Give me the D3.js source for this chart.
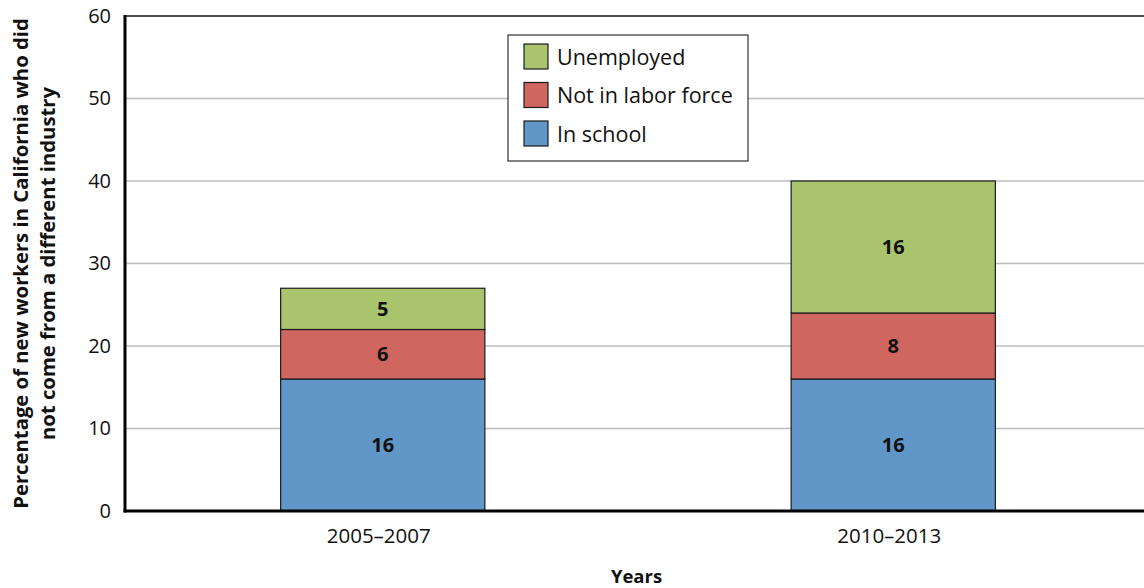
<!DOCTYPE html>
<html>
<head>
<meta charset="utf-8">
<script src="https://cdn.jsdelivr.net/npm/d3@7"></script>
<style>
  html, body { margin: 0; padding: 0; background: #fff; }
  svg { display: block; font-family: "Open Sans", "Noto Sans", sans-serif; }
</style>
</head>
<body>
<svg id="chart" width="1144" height="588"></svg>
<script>
// Chart data
const years = ["2005–2007", "2010–2013"];
const inSchool = [16, 16];
const notInLaborForce = [6, 8];
const unemployed = [5, 16];
const yTicks = [0, 10, 20, 30, 40, 50, 60];

const seriesNames = ["In school", "Not in labor force", "Unemployed"];
const seriesColors = ["#6096c8", "#cf6760", "#a9c46c"];
const seriesValues = [inSchool, notInLaborForce, unemployed];

const svg = d3.select("#chart");
const plotLeft = 125, plotRight = 1146, plotTop = 16, plotBottom = 511;

const x = d3.scaleBand().domain(years).range([plotLeft + 2.5, plotRight + 2.5]).paddingInner(0.6).paddingOuter(0.3);
const y = d3.scaleLinear().domain([0, 60]).range([plotBottom, plotTop]);

// Rows for d3.stack
const rows = years.map((yr, i) => {
  const r = { year: yr };
  seriesNames.forEach((s, k) => r[s] = seriesValues[k][i]);
  return r;
});
const stacked = d3.stack().keys(seriesNames)(rows);

// Grid lines
svg.append("g")
  .selectAll("line")
  .data(yTicks.filter(t => t > 0 && t < 60))
  .join("line")
  .attr("x1", plotLeft).attr("x2", 1144)
  .attr("y1", d => y(d)).attr("y2", d => y(d))
  .attr("stroke", "#bdbdbd").attr("stroke-width", 1.5);

// Top border
svg.append("line")
  .attr("x1", plotLeft).attr("x2", 1144)
  .attr("y1", y(60)).attr("y2", y(60))
  .attr("stroke", "#111").attr("stroke-width", 1.5);

// Stacked bars
const layers = svg.append("g")
  .selectAll("g")
  .data(stacked)
  .join("g")
  .attr("fill", (d, i) => seriesColors[i]);

layers.selectAll("rect")
  .data(d => d)
  .join("rect")
  .attr("x", d => x(d.data.year))
  .attr("width", x.bandwidth())
  .attr("y", d => y(d[1]))
  .attr("height", d => y(d[0]) - y(d[1]))
  .attr("stroke", "#1a1a1a").attr("stroke-width", 1.2);

// Segment value labels
layers.selectAll("text")
  .data(d => d)
  .join("text")
  .attr("x", d => x(d.data.year) + x.bandwidth() / 2)
  .attr("y", d => (y(d[0]) + y(d[1])) / 2)
  .attr("dy", "0.36em")
  .attr("text-anchor", "middle")
  .attr("font-size", 20).attr("font-weight", "bold").attr("fill", "#111")
  .text(d => d[1] - d[0]);

// Y axis
const yAxis = svg.append("g")
  .attr("transform", `translate(${plotLeft},0)`)
  .call(d3.axisLeft(y).tickValues(yTicks).tickSize(0).tickPadding(14));
yAxis.select(".domain").remove();
yAxis.selectAll("text").attr("font-size", 20).attr("fill", "#111")
  .attr("font-family", "'Open Sans', 'Noto Sans', sans-serif");

svg.append("line")
  .attr("x1", plotLeft).attr("x2", plotLeft)
  .attr("y1", plotTop - 1).attr("y2", plotBottom + 1.5)
  .attr("stroke", "#000").attr("stroke-width", 3);

// X axis
const xAxis = svg.append("g")
  .attr("transform", `translate(0,${plotBottom})`)
  .call(d3.axisBottom(x).tickSize(0).tickPadding(17));
xAxis.select(".domain").remove();
xAxis.selectAll("text").attr("font-size", 20.5).attr("fill", "#111")
  .attr("font-family", "'Open Sans', 'Noto Sans', sans-serif")
  .attr("dx", -4);

svg.append("line")
  .attr("x1", plotLeft - 1.5).attr("x2", 1144)
  .attr("y1", plotBottom).attr("y2", plotBottom)
  .attr("stroke", "#000").attr("stroke-width", 3);

// Axis titles
svg.append("text")
  .attr("x", (plotLeft + plotRight) / 2 + 1).attr("y", 583)
  .attr("text-anchor", "middle")
  .attr("font-size", 18.5).attr("font-weight", "bold").attr("fill", "#111")
  .text("Years");

const yTitle = svg.append("text")
  .attr("transform", `translate(28,${(plotTop + plotBottom) / 2}) rotate(-90)`)
  .attr("text-anchor", "middle")
  .attr("font-size", 20.3).attr("font-weight", "bold").attr("fill", "#111");
yTitle.append("tspan").attr("x", 0).attr("dy", 0)
  .text("Percentage of new workers in California who did");
yTitle.append("tspan").attr("x", 0).attr("dy", 27)
  .text("not come from a different industry");

// Legend
const legend = svg.append("g").attr("transform", "translate(508,35)");
legend.append("rect")
  .attr("width", 240).attr("height", 126)
  .attr("fill", "#fff").attr("stroke", "#333").attr("stroke-width", 1.2);
const legendOrder = [2, 1, 0];
const items = legend.selectAll("g.item")
  .data(legendOrder)
  .join("g").attr("class", "item")
  .attr("transform", (d, i) => `translate(16,${9 + i * 38.5})`);
items.append("rect")
  .attr("width", 24).attr("height", 25)
  .attr("fill", d => seriesColors[d])
  .attr("stroke", "#1a1a1a").attr("stroke-width", 1.2);
items.append("text")
  .attr("x", 33).attr("y", 13).attr("dy", "0.36em")
  .attr("font-size", 21.5).attr("fill", "#111")
  .text(d => seriesNames[d]);
</script>
</body>
</html>
